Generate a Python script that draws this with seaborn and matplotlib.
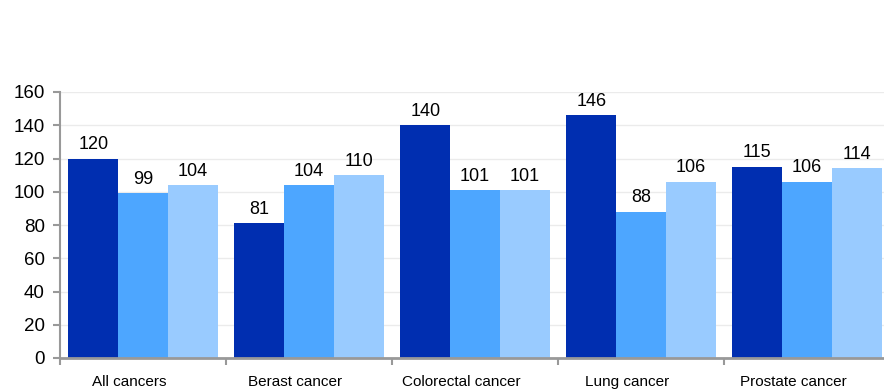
import matplotlib
matplotlib.use("Agg")
import matplotlib.pyplot as plt
import matplotlib.transforms as mtransforms
import seaborn as sns
import pandas as pd

# Cancer sites and three series of values per site
categories = ["All cancers", "Berast cancer", "Colorectal cancer", "Lung cancer", "Prostate cancer"]
series_names = ["Series 1", "Series 2", "Series 3"]
series_1 = [120, 81, 140, 146, 115]
series_2 = [99, 104, 101, 88, 106]
series_3 = [104, 110, 101, 106, 114]
y_ticks = [0, 20, 40, 60, 80, 100, 120, 140, 160]

palette = ["#002EB0", "#4DA6FF", "#99CBFF"]

df = pd.DataFrame({
    "category": categories * 3,
    "series": [series_names[0]] * 5 + [series_names[1]] * 5 + [series_names[2]] * 5,
    "value": series_1 + series_2 + series_3,
})

sns.set_theme(style="white")
plt.rcParams["font.family"] = ["Liberation Sans", "DejaVu Sans"]

fig = plt.figure(figsize=(8.84, 3.92), dpi=100)
ax = fig.add_axes([60 / 884, 34 / 392, 830 / 884, 266 / 392])

sns.barplot(data=df, x="category", y="value", hue="series", order=categories,
            hue_order=series_names, palette=palette, width=0.9, saturation=1,
            errorbar=None, legend=False, ax=ax, zorder=3, linewidth=0,
            edgecolor="none")

for container in ax.containers:
    ax.bar_label(container, fmt="%d", padding=4, fontsize=13, color="#000000")

ax.set_ylim(0, 160)
ax.set_yticks(y_ticks)
ax.set_xlim(-0.5, len(categories) - 0.5)
ax.yaxis.grid(True, color="#EBEBEB", linewidth=1, zorder=0)
ax.xaxis.grid(False)

ax.set_xlabel("")
ax.set_ylabel("")

for side in ["top", "right"]:
    ax.spines[side].set_visible(False)
ax.spines["left"].set_color("#999999")
ax.spines["left"].set_linewidth(1.5)
ax.spines["bottom"].set_color("#999999")
ax.spines["bottom"].set_linewidth(2)
ax.spines["left"].set_zorder(4)
ax.spines["bottom"].set_zorder(4)

ax.tick_params(axis="y", which="major", left=True, length=5, width=1.5,
               color="#999999", labelsize=13.5, labelcolor="#000000", pad=6)
ax.tick_params(axis="x", which="major", bottom=False, length=0,
               labelsize=11, labelcolor="#000000", pad=12)
ax.set_xticks([i - 0.5 for i in range(len(categories) + 1)], minor=True)
ax.tick_params(axis="x", which="minor", bottom=True, length=5, width=1.5,
               color="#999999", direction="out")

# category labels sit slightly left of the group centres
shift = mtransforms.ScaledTranslation(-14 / 100, 0, fig.dpi_scale_trans)
for lbl in ax.get_xticklabels():
    lbl.set_transform(lbl.get_transform() + shift)

fig.savefig("out.png", dpi=100)
